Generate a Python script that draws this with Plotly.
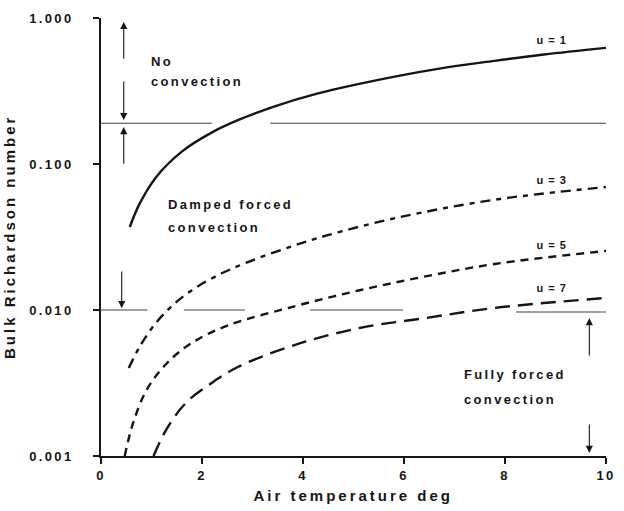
import math
import plotly.graph_objects as go

# Air temperature (deg) and bulk Richardson number for each wind speed u
temp_u1 = [0.57, 0.76, 1.09, 1.60, 2.19, 2.71, 3.44, 4.28, 5.84, 6.82, 7.79, 8.77, 10.0]
ri_u1 = [0.0370, 0.0531, 0.0813, 0.1216, 0.1641, 0.1995, 0.2483, 0.3034, 0.398, 0.457, 0.509, 0.562, 0.624]

temp_u3 = [0.55, 0.76, 1.02, 1.35, 1.74, 2.27, 2.91, 3.79, 4.47, 5.84, 7.79, 10.0]
ri_u3 = [0.00401, 0.00556, 0.00762, 0.01023, 0.01324, 0.0170, 0.0213, 0.0274, 0.0324, 0.0427, 0.0569, 0.0695]

temp_u5 = [0.47, 0.63, 0.90, 1.29, 1.80, 2.52, 3.83, 5.12, 6.43, 7.79, 10.0]
ri_u5 = [0.0010, 0.00166, 0.00282, 0.00427, 0.00596, 0.00785, 0.0106, 0.01365, 0.0170, 0.02065, 0.0254]

temp_u7 = [1.04, 1.29, 1.68, 2.19, 2.71, 3.83, 5.12, 6.43, 7.79, 10.0]
ri_u7 = [0.0010, 0.00151, 0.00231, 0.00316, 0.00407, 0.00575, 0.00753, 0.00881, 0.01033, 0.0121]

# Regime boundaries (broken horizontal rules)
upper_bound_x = [0, 2.2, None, 3.35, 10]
upper_bound_y = [0.19, 0.19, None, 0.19, 0.19]
lower_bound_x = [0, 0.92, None, 1.64, 2.85, None, 4.14, 5.98, None, 8.22, 10]
lower_bound_y = [0.01, 0.01, None, 0.01, 0.01, None, 0.01, 0.01, None, 0.0097, 0.0097]

# Axis ticks
x_ticks = [0, 2, 4, 6, 8, 10]
y_ticks = [0.001, 0.01, 0.1, 1.0]
y_tick_text = ["0.001", "0.010", "0.100", "1.000"]

# Curve labels: (text, temperature, Ri)
curve_labels = [("u = 1", 8.93, 0.706), ("u = 3", 8.93, 0.0776),
                ("u = 5", 8.93, 0.0279), ("u = 7", 8.93, 0.0142)]

# Regime arrows: (temperature, Ri at tail, Ri at head)
arrows = [(0.45, 0.515, 0.94), (0.45, 0.376, 0.20), (0.45, 0.098, 0.179),
          (0.41, 0.0188, 0.0103), (9.67, 0.00476, 0.0088), (9.67, 0.00168, 0.00105)]

# Regime labels: (text, temperature, Ri at line centre)
regime_lines = [("No", 0.96, 0.500), ("convection", 0.96, 0.365),
                ("Damped forced", 1.29, 0.0532), ("convection", 1.29, 0.0365),
                ("Fully forced", 7.15, 0.00359), ("convection", 7.15, 0.00245)]

INK = "#151515"
FONT = "Liberation Sans, Arial, Helvetica, sans-serif"

fig = go.Figure()

fig.add_trace(go.Scatter(x=upper_bound_x, y=upper_bound_y, mode="lines",
                         line=dict(color="#444444", width=1.1), connectgaps=False,
                         hoverinfo="skip", showlegend=False))
fig.add_trace(go.Scatter(x=lower_bound_x, y=lower_bound_y, mode="lines",
                         line=dict(color="#444444", width=1.1), connectgaps=False,
                         hoverinfo="skip", showlegend=False))

curves = [
    (temp_u1, ri_u1, "solid"),
    (temp_u3, ri_u3, "10px,6px,5px,6px"),
    (temp_u5, ri_u5, "8px,6px"),
    (temp_u7, ri_u7, "15px,8px"),
]
for xs, ys, dash in curves:
    fig.add_trace(go.Scatter(x=xs, y=ys, mode="lines",
                             line=dict(color=INK, width=2.4, dash=dash, shape="spline", smoothing=1.0),
                             showlegend=False))

annotations = []
for text, tx, ry in curve_labels:
    annotations.append(dict(x=tx, y=math.log10(ry), xref="x", yref="y", text=text,
                            showarrow=False, xanchor="center", yanchor="middle",
                            font=dict(family=FONT, size=11, color=INK, weight="bold")))

for tx, tail, head in arrows:
    annotations.append(dict(x=tx, y=math.log10(head), ax=tx, ay=math.log10(tail),
                            xref="x", yref="y", axref="x", ayref="y", text="",
                            showarrow=True, arrowhead=2, arrowsize=1.3, arrowwidth=1.1,
                            arrowcolor=INK, standoff=0, startstandoff=0))

for text, tx, ry in regime_lines:
    annotations.append(dict(x=tx, y=math.log10(ry), xref="x", yref="y", text=text,
                            showarrow=False, xanchor="left", yanchor="middle", align="left",
                            font=dict(family=FONT, size=13, color=INK, weight="bold")))

# Axis titles
annotations.append(dict(x=0.5, y=0, xref="paper", yref="paper", yshift=-39,
                        text="Air temperature deg", showarrow=False,
                        xanchor="center", yanchor="middle",
                        font=dict(family=FONT, size=15, color=INK, weight="bold")))
annotations.append(dict(x=0, y=0.5, xref="paper", yref="paper", xshift=-92,
                        text="Bulk Richardson number", showarrow=False, textangle=-90,
                        xanchor="center", yanchor="middle",
                        font=dict(family=FONT, size=15, color=INK, weight="bold")))

fig.update_layout(
    width=624, height=511,
    margin=dict(l=101, r=11, t=18, b=55),
    paper_bgcolor="white", plot_bgcolor="white",
    annotations=annotations,
    showlegend=False,
)
fig.update_xaxes(range=[0, 10], tickvals=x_ticks, ticks="outside", ticklen=6, tickwidth=1.5,
                 tickcolor=INK, showline=True, linecolor=INK, linewidth=1.8,
                 showgrid=False, zeroline=False,
                 tickfont=dict(family=FONT, size=13, color=INK, weight="bold"))
fig.update_yaxes(type="log", range=[-3, 0], tickvals=y_ticks, ticktext=y_tick_text,
                 ticks="outside", ticklen=6, tickwidth=1.5, tickcolor=INK,
                 ticklabelstandoff=11,
                 showline=True, linecolor=INK, linewidth=1.8,
                 showgrid=False, zeroline=False,
                 tickfont=dict(family=FONT, size=13, color=INK, weight="bold"))

# Wide letter tracking for the lettering (curve labels get a lighter touch);
# y tick labels are nudged a little further from the axis.
post = """
var gd = document.getElementById('{plot_id}');
function track(){
  gd.querySelectorAll('text').forEach(function(t){
    var s = t.textContent || '';
    var size = parseFloat(t.style.fontSize) || 13;
    var k = s.indexOf('=') >= 0 ? 0.09 : (size >= 15 ? 0.2 : 0.18);
    t.style.letterSpacing = (size * k).toFixed(2) + 'px';
  });
  gd.querySelectorAll('.ytick text').forEach(function(t){
    t.setAttribute('dx', '-6');
  });
}
track();
gd.on('plotly_afterplot', track);
"""

fig.write_html("out.html", post_script=post)
